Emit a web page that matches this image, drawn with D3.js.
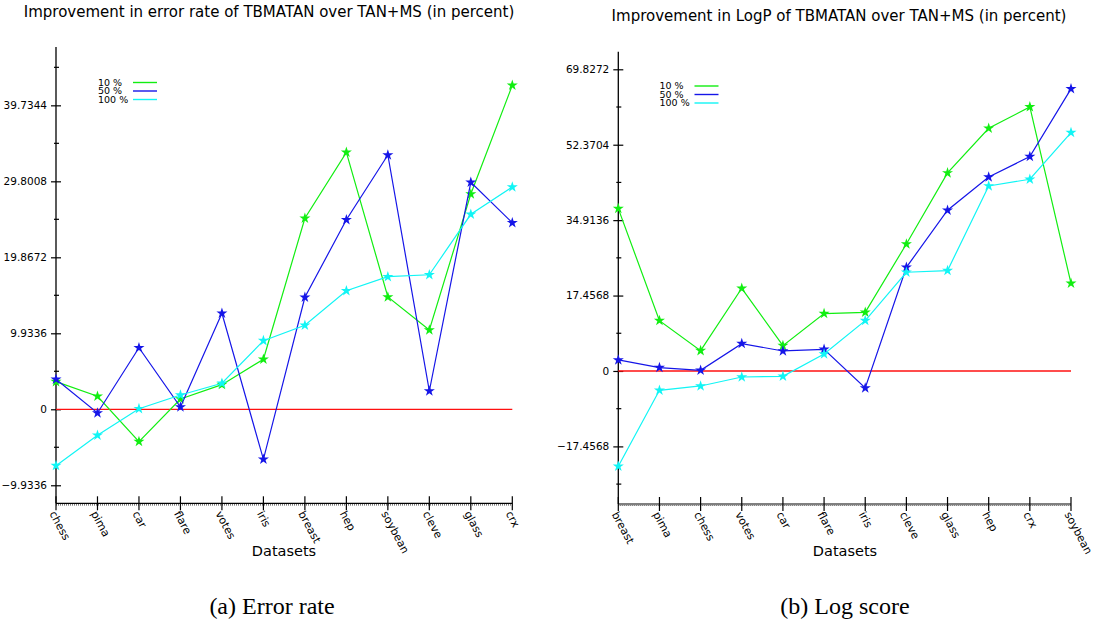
<!DOCTYPE html>
<html lang="en">
<head>
  <meta charset="UTF-8">
  <title>TBMATAN improvement</title>
  <script src="https://d3js.org/d3.v7.min.js"></script>
  <style>
    body { margin: 0; padding: 0; background: #fff; overflow: hidden; }
    text { font-family: "DejaVu Sans", sans-serif; fill: #000; }
    .caption { font-family: "Liberation Serif", "DejaVu Serif", serif; font-size: 24px; }
  </style>
</head>
<body>
  <svg id="chart" width="1097" height="624"></svg>
  <script>
    // Data
    const seriesNames = ["10 %", "50 %", "100 %"];
    const seriesColors = ["#11ee11", "#1515e8", "#11f5f5"];

    // (a) error rate
    const errCategories = ["chess", "pima", "car", "flare", "votes", "iris", "breast", "hep", "soybean", "cleve", "glass", "crx"];
    const err10 = [3.61, 1.70, -4.23, 1.35, 3.22, 6.54, 24.97, 33.59, 14.68, 10.37, 28.14, 42.35];
    const err50 = [3.92, -0.48, 8.05, 0.30, 12.55, -6.54, 14.64, 24.78, 33.24, 2.39, 29.67, 24.39];
    const err100 = [-7.37, -3.40, 0.08, 1.87, 3.40, 8.97, 10.98, 15.50, 17.33, 17.59, 25.49, 29.06];
    const errTicks = [-9.9336, 0, 9.9336, 19.8672, 29.8008, 39.7344];

    // (b) log score
    const logCategories = ["breast", "pima", "chess", "votes", "car", "flare", "iris", "cleve", "glass", "hep", "crx", "soybean"];
    const log10 = [37.58, 11.65, 4.70, 19.14, 5.86, 13.27, 13.58, 29.40, 45.84, 56.18, 61.12, 20.30];
    const log50 = [2.55, 0.77, 0.15, 6.33, 4.63, 5.02, -3.94, 24.00, 37.20, 44.91, 49.62, 65.29];
    const log100 = [-22.07, -4.48, -3.47, -1.39, -1.24, 3.94, 11.65, 22.85, 23.23, 42.83, 44.38, 55.17];
    const logTicks = [-17.4568, 0, 17.4568, 34.9136, 52.3704, 69.8272];

    const svg = d3.select("#chart");

    function drawPanel(cfg) {
      const g = svg.append("g");
      const x = d3.scalePoint().domain(cfg.categories).range([cfg.left, cfg.right]);
      const y = d3.scaleLinear().domain(cfg.domain).range([cfg.bottom, cfg.top]);

      // title
      g.append("text")
        .attr("x", cfg.titleX).attr("y", cfg.titleY)
        .attr("text-anchor", "middle")
        .style("font-size", "15px")
        .text(cfg.title);

      // y axis
      const step = cfg.ticks[2] - cfg.ticks[1];
      const minor = cfg.ticks.map(t => t + step / 2).concat([cfg.ticks[0] - step / 2])
        .filter(v => v > cfg.domain[0] && v < cfg.domain[1]);

      const yAxis = g.append("g")
        .attr("transform", `translate(${cfg.left},0)`)
        .call(d3.axisLeft(y).tickValues(cfg.ticks).tickSize(5).tickPadding(4)
          .tickFormat(d => d === 0 ? "0" : d3.format(".4f")(d).replace(/0+$/, "").replace("-", "\u2212")));
      yAxis.select(".domain").remove();
      yAxis.selectAll(".tick line").attr("x1", -5).attr("x2", 5).attr("stroke", "#000").attr("stroke-width", 1.2);
      yAxis.selectAll(".tick text").style("font-size", "10.5px").style("font-family", "'DejaVu Sans', sans-serif");

      g.append("g").selectAll("line")
        .data(minor).join("line")
        .attr("x1", cfg.left - 2).attr("x2", cfg.left + 3)
        .attr("y1", d => y(d)).attr("y2", d => y(d))
        .attr("stroke", "#000").attr("stroke-width", 1.2);

      g.append("line")
        .attr("x1", cfg.left).attr("x2", cfg.left)
        .attr("y1", cfg.top).attr("y2", cfg.bottom)
        .attr("stroke", "#000").attr("stroke-width", 1.3);

      // x axis (dotted double line)
      g.append("line")
        .attr("x1", cfg.left).attr("x2", cfg.right)
        .attr("y1", cfg.bottom).attr("y2", cfg.bottom)
        .attr("stroke", "#000").attr("stroke-width", 1.2);
      g.append("line")
        .attr("x1", cfg.left).attr("x2", cfg.right)
        .attr("y1", cfg.bottom + 1.5).attr("y2", cfg.bottom + 1.5)
        .attr("stroke", "#555").attr("stroke-width", 1.2)
        .attr("stroke-dasharray", "1,1");

      const xt = g.append("g").selectAll("g")
        .data(cfg.categories).join("g")
        .attr("transform", d => `translate(${x(d)},${cfg.bottom})`);
      xt.append("line")
        .attr("y1", -7).attr("y2", 7)
        .attr("stroke", "#000").attr("stroke-width", 1.2);
      xt.append("text")
        .attr("transform", "translate(1,6) rotate(62)")
        .attr("dy", "0.8em")
        .style("font-size", "11px")
        .text(d => d);

      // zero line
      g.append("line")
        .attr("x1", cfg.left).attr("x2", cfg.right)
        .attr("y1", y(0)).attr("y2", y(0))
        .attr("stroke", "#ff1010").attr("stroke-width", 1.3);

      // series
      const line = d3.line().x((d, i) => x(cfg.categories[i])).y(d => y(d));
      const star = d3.symbol().type(d3.symbolStar).size(38);
      cfg.series.forEach((vals, si) => {
        g.append("path")
          .datum(vals)
          .attr("d", line)
          .attr("fill", "none")
          .attr("stroke", seriesColors[si])
          .attr("stroke-width", 1.2);
        g.append("g").selectAll("path")
          .data(vals).join("path")
          .attr("d", star)
          .attr("transform", (d, i) => `translate(${x(cfg.categories[i])},${y(d)})`)
          .attr("fill", seriesColors[si]);
      });

      // legend
      const leg = g.append("g").selectAll("g")
        .data(seriesNames).join("g")
        .attr("transform", (d, i) => `translate(${cfg.legendX},${cfg.legendY + i * 8.5})`);
      leg.append("text")
        .attr("x", -35).attr("dy", "0.35em")
        .style("font-size", "9.5px")
        .text(d => d);
      leg.append("line")
        .attr("x1", 0).attr("x2", 24)
        .attr("stroke", (d, i) => seriesColors[i])
        .attr("stroke-width", 1.4);

      // axis title and caption
      g.append("text")
        .attr("x", cfg.labelX).attr("y", 556)
        .attr("text-anchor", "middle")
        .style("font-size", "14.5px")
        .text("Datasets");
      g.append("text")
        .attr("class", "caption")
        .attr("x", cfg.captionX).attr("y", 614)
        .attr("text-anchor", "middle")
        .text(cfg.caption);
    }

    drawPanel({
      categories: errCategories,
      series: [err10, err50, err100],
      ticks: errTicks,
      domain: [-12.29, 47.36],
      left: 56, right: 512.3, top: 47, bottom: 503.3,
      title: "Improvement in error rate of TBMATAN over TAN+MS (in percent)",
      titleX: 269, titleY: 17,
      legendX: 133, legendY: 82.5,
      labelX: 284, captionX: 272,
      caption: "(a) Error rate"
    });

    drawPanel({
      categories: logCategories,
      series: [log10, log50, log100],
      ticks: logTicks,
      domain: [-30.79, 73.9],
      left: 618.3, right: 1071, top: 51.7, bottom: 504,
      title: "Improvement in LogP of TBMATAN over TAN+MS (in percent)",
      titleX: 839, titleY: 21,
      legendX: 694.5, legendY: 86,
      labelX: 845, captionX: 845,
      caption: "(b) Log score"
    });
  </script>
</body>
</html>
